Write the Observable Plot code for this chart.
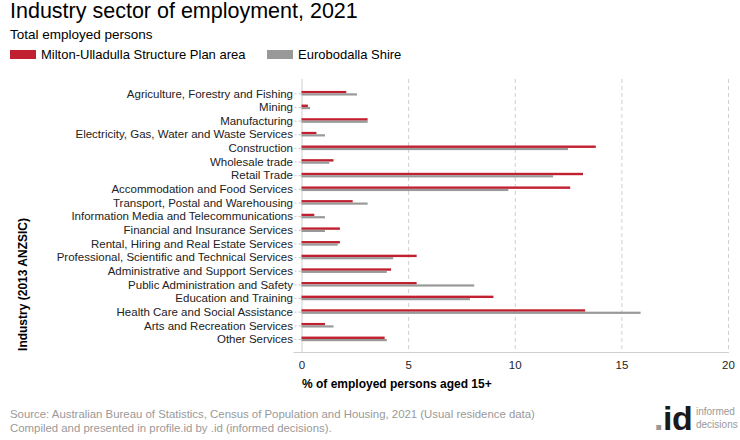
<!DOCTYPE html>
<html>
<head>
<meta charset="utf-8">
<script src="https://cdn.jsdelivr.net/npm/d3@7"></script>
<script src="https://cdn.jsdelivr.net/npm/@observablehq/plot@0.6"></script>
<style>
  html, body { margin: 0; padding: 0; background: #fff; }
  body { font-family: Arial, "Liberation Sans", sans-serif; }
  #wrap { position: relative; width: 740px; height: 440px; overflow: hidden; }
  #chart { position: absolute; left: 0; top: 0; }
  .abs { position: absolute; white-space: nowrap; line-height: 1; }
  #title { left: 10px; top: 1px; font-size: 21.5px; color: #000; }
  #subtitle { left: 10px; top: 28px; font-size: 13.5px; color: #000; }
  .legend { top: 47.5px; font-size: 13px; color: #000; }
  .sw { position: absolute; top: 50px; width: 26px; height: 9px; }
  .foot { left: 10px; font-size: 11.4px; color: #999; }
  .logoid { left: 654px; top: 401px; font-size: 34px; font-weight: bold; color: #1a1a1a; letter-spacing: -0.5px; }
  .logoid .dot { color: #999; }
  .logowords { left: 696px; top: 406px; font-size: 10px; color: #999; line-height: 12.5px; }
</style>
</head>
<body>
<div id="wrap">
  <div id="chart"></div>
  <div id="title" class="abs">Industry sector of employment, 2021</div>
  <div id="subtitle" class="abs">Total employed persons</div>
  <div class="sw" style="left:10px;background:#C0202F"></div>
  <div class="abs legend" style="left:41px">Milton-Ulladulla Structure Plan area</div>
  <div class="sw" style="left:267px;background:#999"></div>
  <div class="abs legend" style="left:298px">Eurobodalla Shire</div>
  <div class="abs foot" style="top:408.5px">Source: Australian Bureau of Statistics, Census of Population and Housing, 2021 (Usual residence data)</div>
  <div class="abs foot" style="top:422.5px">Compiled and presented in profile.id by .id (informed decisions).</div>
  <div class="abs logoid"><span class="dot">.</span>id</div>
  <div class="abs logowords">informed<br>decisions</div>
</div>
<script>
const categories = [
  "Agriculture, Forestry and Fishing",
  "Mining",
  "Manufacturing",
  "Electricity, Gas, Water and Waste Services",
  "Construction",
  "Wholesale trade",
  "Retail Trade",
  "Accommodation and Food Services",
  "Transport, Postal and Warehousing",
  "Information Media and Telecommunications",
  "Financial and Insurance Services",
  "Rental, Hiring and Real Estate Services",
  "Professional, Scientific and Technical Services",
  "Administrative and Support Services",
  "Public Administration and Safety",
  "Education and Training",
  "Health Care and Social Assistance",
  "Arts and Recreation Services",
  "Other Services"
];
const miltonUlladulla = [2.1, 0.3, 3.1, 0.7, 13.8, 1.5, 13.2, 12.6, 2.4, 0.6, 1.8, 1.8, 5.4, 4.2, 5.4, 9.0, 13.3, 1.1, 3.9];
const eurobodalla = [2.6, 0.4, 3.1, 1.1, 12.5, 1.3, 11.8, 9.7, 3.1, 1.1, 1.1, 1.7, 4.3, 4.0, 8.1, 7.9, 15.9, 1.5, 4.0];
const xTicks = [0, 5, 10, 15, 20];
const xLabel = "% of employed persons aged 15+";
const yLabel = "Industry (2013 ANZSIC)";

const rowsA = categories.map((c, i) => ({industry: c, value: miltonUlladulla[i]}));
const rowsB = categories.map((c, i) => ({industry: c, value: eurobodalla[i]}));

const band = (345.8 - 86.5) / categories.length;
const half = band / 2;

const chart = Plot.plot({
  width: 740,
  height: 440,
  marginTop: 79,
  marginBottom: 88,
  marginLeft: 301.5,
  marginRight: 12,
  style: {fontFamily: 'Arial, "Liberation Sans", sans-serif', background: "transparent"},
  x: {domain: [0, 20], range: [301.5, 728]},
  y: {domain: categories, range: [86.5, 345.8], padding: 0, round: false},
  marks: [
    Plot.gridX(xTicks.slice(1), {stroke: "#cfcfcf", strokeOpacity: 1, strokeDasharray: "4,3"}),
    Plot.frame({anchor: "bottom", stroke: "#cfcfcf", insetLeft: -8}),
    Plot.ruleX([0], {stroke: "#cfcfcf"}),
    Plot.barX(rowsA, {y: "industry", x: "value", fill: "#C0202F", insetTop: half - 2.4, insetBottom: half}),
    Plot.barX(rowsB, {y: "industry", x: "value", fill: "#999999", insetTop: half, insetBottom: half - 2.2}),
    Plot.axisY({tickSize: 7, tickPadding: 2, stroke: "#c8c8c8", strokeDasharray: "3,2", fill: "#222", fontSize: 11.5, label: null}),
    Plot.axisX({ticks: xTicks, tickSize: 0, tickPadding: 8, fill: "#222", fontSize: 11.5, label: null}),
    Plot.text([xLabel], {frameAnchor: "bottom-left", textAnchor: "start", dy: 35, fontSize: 12, fontWeight: "bold", fill: "#000"}),
    Plot.text([yLabel], {frameAnchor: "left", textAnchor: "middle", rotate: -90, dx: -278.5, dy: 68.5, fontSize: 12, fontWeight: "bold", fill: "#000"})
  ]
});
document.getElementById("chart").appendChild(chart);
</script>
</body>
</html>
